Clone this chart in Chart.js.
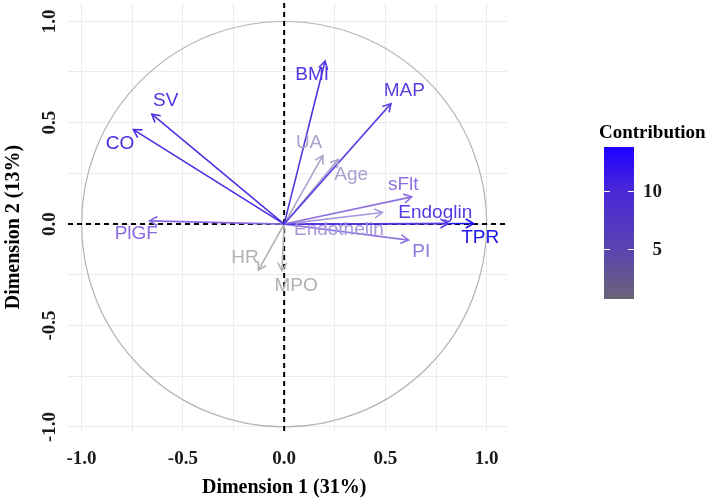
<!DOCTYPE html>
<html>
<head>
<meta charset="utf-8">
<script src="https://cdn.jsdelivr.net/npm/chart.js@4"></script>
<style>
  html, body { margin: 0; padding: 0; background: #fff; }
  #wrap { width: 709px; height: 499px; }
</style>
</head>
<body>
<div id="wrap"><canvas id="pca" width="709" height="499"></canvas></div>
<script>
// --- DATA ---
const varNames = ['SV', 'CO', 'PlGF', 'BMI', 'MAP', 'UA', 'Age', 'sFlt', 'Endoglin', 'Endothelin', 'TPR', 'PI', 'HR', 'MPO'];
const dim1 = [-0.653, -0.744, -0.665, 0.202, 0.527, 0.191, 0.268, 0.630, 0.810, 0.485, 0.935, 0.614, -0.127, -0.011];
const dim2 = [0.542, 0.466, 0.016, 0.804, 0.594, 0.338, 0.319, 0.134, 0.003, 0.057, 0.003, -0.079, -0.227, -0.230];
const contrib = [11.7, 12.5, 7.2, 11.1, 10.2, 2.4, 2.8, 6.7, 10.6, 3.8, 14.2, 6.2, 1.1, 0.9];
const tickValues = [-1.0, -0.5, 0.0, 0.5, 1.0];
const tickLabels = ['-1.0', '-0.5', '0.0', '0.5', '1.0'];
const legendTicks = [5, 10];
const contribRange = [0.66, 13.8];

// --- LAYOUT / STYLE ---
// repelled label positions (data units), as placed in the original
const labelAt = {
    SV: [-0.585, 0.606], CO: [-0.81, 0.394], PlGF: [-0.73, -0.049], BMI: [0.138, 0.734],
    MAP: [0.593, 0.655], UA: [0.123, 0.399], Age: [0.331, 0.241], sFlt: [0.588, 0.192],
    Endoglin: [0.746, 0.054], Endothelin: [0.27, -0.03], TPR: [0.968, -0.069],
    PI: [0.677, -0.138], HR: [-0.193, -0.167], MPO: [0.059, -0.305]
};
const arrowStops = [
    [0.9, [178, 178, 178]], [2.5, [170, 162, 204]], [4, [166, 150, 222]],
    [7, [140, 108, 226]], [10.5, [88, 58, 224]], [12.5, [72, 44, 226]], [14.2, [26, 20, 240]]
];
const legendStops = [
    [0, '#6b6478'], [0.33, '#5a44b0'], [0.71, '#4a28d8'], [1, '#1e00ff']
];
const serifBold = 'bold 19px "Liberation Serif", "DejaVu Serif", serif';

// --- HELPERS ---
function colourFor(v) {
    if (v <= arrowStops[0][0]) return 'rgb(' + arrowStops[0][1].join(',') + ')';
    for (let i = 1; i < arrowStops.length; i++) {
        const [v1, c1] = arrowStops[i];
        const [v0, c0] = arrowStops[i - 1];
        if (v <= v1) {
            const t = (v - v0) / (v1 - v0);
            const c = c0.map((a, k) => Math.round(a + (c1[k] - a) * t));
            return 'rgb(' + c.join(',') + ')';
        }
    }
    return 'rgb(' + arrowStops[arrowStops.length - 1][1].join(',') + ')';
}

const fixedTicks = [-1, -0.75, -0.5, -0.25, 0, 0.25, 0.5, 0.75, 1];

// --- PLUGIN: circle, dashed axes, arrowheads, labels, legend ---
const biplotDecor = {
    id: 'biplotDecor',
    beforeDatasetsDraw(chart) {
        const { ctx, chartArea: a, scales: { x, y } } = chart;
        ctx.save();
        // correlation circle
        const cx = x.getPixelForValue(0), cy = y.getPixelForValue(0);
        const rx = x.getPixelForValue(1) - cx, ry = cy - y.getPixelForValue(1);
        ctx.strokeStyle = '#b3b3b3';
        ctx.lineWidth = 1.2;
        ctx.beginPath();
        ctx.ellipse(cx, cy, rx, ry, 0, 0, Math.PI * 2);
        ctx.stroke();
        // dashed zero lines
        ctx.strokeStyle = '#000';
        ctx.lineWidth = 2;
        ctx.setLineDash([5, 4]);
        ctx.beginPath();
        ctx.moveTo(a.left, cy); ctx.lineTo(a.right, cy);
        ctx.moveTo(cx, a.top); ctx.lineTo(cx, a.bottom);
        ctx.stroke();
        ctx.restore();
    },
    afterDatasetsDraw(chart) {
        const { ctx, scales: { x, y } } = chart;
        ctx.save();
        // arrowheads
        chart.data.datasets.forEach((ds, i) => {
            const pts = chart.getDatasetMeta(i).data;
            const p0 = pts[0], p1 = pts[1];
            const ang = Math.atan2(p1.y - p0.y, p1.x - p0.x);
            const len = 9, spread = Math.PI / 6;
            ctx.strokeStyle = ds.borderColor;
            ctx.lineWidth = 1.6;
            ctx.beginPath();
            ctx.moveTo(p1.x - len * Math.cos(ang - spread), p1.y - len * Math.sin(ang - spread));
            ctx.lineTo(p1.x, p1.y);
            ctx.lineTo(p1.x - len * Math.cos(ang + spread), p1.y - len * Math.sin(ang + spread));
            ctx.stroke();
        });
        // variable labels
        ctx.font = '19px "Liberation Sans", Arial, sans-serif';
        ctx.textAlign = 'center';
        ctx.textBaseline = 'middle';
        varNames.forEach((name, i) => {
            const [lx, ly] = labelAt[name];
            ctx.fillStyle = colourFor(contrib[i]);
            ctx.fillText(name, x.getPixelForValue(lx), y.getPixelForValue(ly));
        });
        ctx.restore();
    },
    afterDraw(chart) {
        const { ctx, chartArea: a, scales: { x, y } } = chart;
        ctx.save();
        ctx.fillStyle = '#1a1a1a';
        ctx.font = serifBold;
        // x tick labels
        ctx.textAlign = 'center';
        ctx.textBaseline = 'middle';
        tickValues.forEach((v, i) => ctx.fillText(tickLabels[i], x.getPixelForValue(v), a.bottom + 26));
        // y tick labels (rotated)
        tickValues.forEach((v, i) => {
            ctx.save();
            ctx.translate(50, y.getPixelForValue(v));
            ctx.rotate(-Math.PI / 2);
            ctx.fillText(tickLabels[i], 0, 0);
            ctx.restore();
        });
        // axis titles
        ctx.font = 'bold 20px "Liberation Serif", "DejaVu Serif", serif';
        ctx.fillStyle = '#000';
        ctx.fillText('Dimension 1 (31%)', x.getPixelForValue(0), 488);
        ctx.save();
        ctx.translate(14, y.getPixelForValue(0) + 3);
        ctx.rotate(-Math.PI / 2);
        ctx.fillText('Dimension 2 (13%)', 0, 0);
        ctx.restore();

        // colour bar legend
        const bx = 604, bw = 30, bTop = 147, bBot = 299;
        ctx.font = serifBold;
        ctx.textAlign = 'left';
        ctx.fillText('Contribution', 599, 133);
        const grad = ctx.createLinearGradient(0, bBot, 0, bTop);
        legendStops.forEach(([t, c]) => grad.addColorStop(t, c));
        ctx.fillStyle = grad;
        ctx.fillRect(bx, bTop, bw, bBot - bTop);
        const toY = v => bBot - (v - contribRange[0]) / (contribRange[1] - contribRange[0]) * (bBot - bTop);
        ctx.strokeStyle = '#ffffff';
        ctx.lineWidth = 1.2;
        ctx.textAlign = 'right';
        ctx.fillStyle = '#1a1a1a';
        legendTicks.forEach(v => {
            const ty = Math.round(toY(v)) + 0.5;
            ctx.beginPath();
            ctx.moveTo(bx, ty); ctx.lineTo(bx + 6, ty);
            ctx.moveTo(bx + bw - 6, ty); ctx.lineTo(bx + bw, ty);
            ctx.stroke();
            ctx.fillText(String(v), 662, ty + 1);
        });
        ctx.restore();
    }
};

// --- BUILD CHART ---
const datasets = varNames.map((name, i) => ({
    label: name,
    data: [{ x: 0, y: 0 }, { x: dim1[i], y: dim2[i] }],
    borderColor: colourFor(contrib[i]),
    borderWidth: 1.6,
    pointRadius: 0,
    showLine: true,
    fill: false
}));

const gridStyle = { color: '#ebebeb', lineWidth: 1, drawTicks: false };

new Chart(document.getElementById('pca'), {
    type: 'scatter',
    data: { datasets: datasets },
    options: {
        responsive: false,
        animation: false,
        layout: { padding: { left: 68, right: 202, top: 3, bottom: 66 } },
        scales: {
            x: {
                type: 'linear', min: -1.067, max: 1.10,
                afterBuildTicks: s => { s.ticks = fixedTicks.map(v => ({ value: v })); },
                ticks: { display: false },
                grid: gridStyle,
                border: { display: false }
            },
            y: {
                type: 'linear', min: -1.03, max: 1.09,
                afterBuildTicks: s => { s.ticks = fixedTicks.map(v => ({ value: v })); },
                ticks: { display: false },
                grid: gridStyle,
                border: { display: false }
            }
        },
        plugins: {
            legend: { display: false },
            tooltip: { enabled: false }
        }
    },
    plugins: [biplotDecor]
});
</script>
</body>
</html>
